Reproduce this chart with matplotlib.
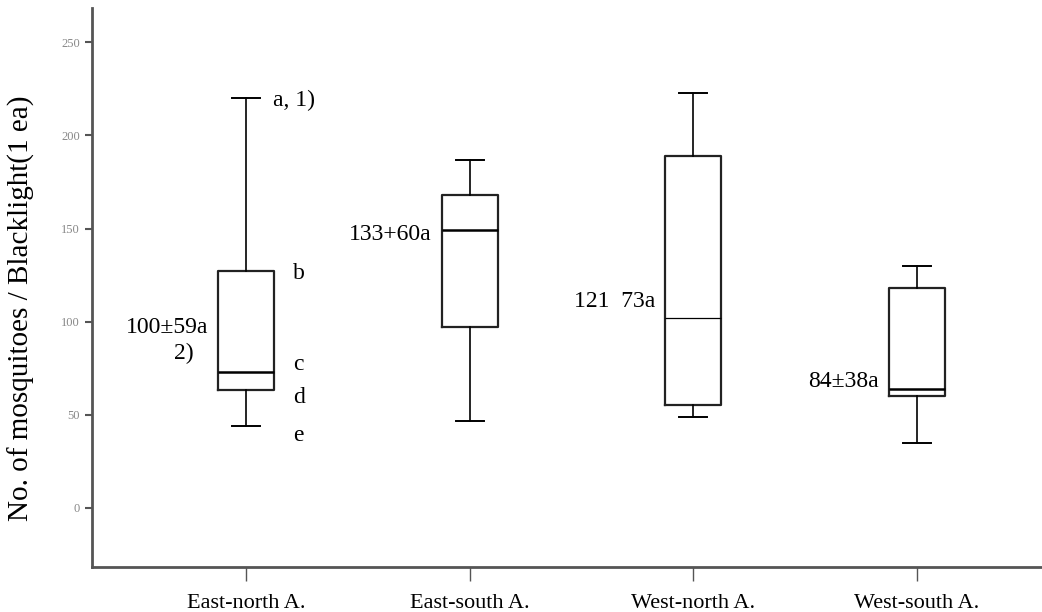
import matplotlib.pyplot as plt

plt.rcParams['font.family'] = ['Liberation Serif', 'DejaVu Serif']

areas = ['East-north A.', 'East-south A.', 'West-north A.', 'West-south A.']
whisker_low = [44, 46.5, 49, 35]
q1 = [63, 97, 55, 60]
medians = [73, 149, 102, 64]
q3 = [127, 168, 189, 118]
whisker_high = [220, 187, 223, 130]
mean_sd = ['100±59a', '133+60a', '121  73a', '84±38a']
yticks = [0, 50, 100, 150, 200, 250]

stats = []
for i, name in enumerate(areas):
    stats.append({'label': name, 'whislo': whisker_low[i], 'q1': q1[i],
                  'med': medians[i], 'q3': q3[i], 'whishi': whisker_high[i],
                  'fliers': []})

fig = plt.figure(figsize=(10.42, 6.12), dpi=100)
ax = fig.add_axes([0.088, 0.074, 0.912, 0.913])

parts = ax.bxp(stats, positions=[1, 2, 3, 4], widths=0.25, showfliers=False,
               boxprops=dict(color='#222222', linewidth=1.6),
               medianprops=dict(color='black', linewidth=1.8),
               whiskerprops=dict(color='black', linewidth=1.2),
               capprops=dict(color='black', linewidth=1.4))
parts['medians'][2].set_linewidth(0.9)

ax.set_xlim(0.31, 4.56)
ax.set_ylim(-31.7, 268.5)
ax.set_yticks(yticks)
ax.set_yticklabels([str(v) for v in yticks], color='#888888', fontsize=9)
ax.set_xticklabels(areas, fontsize=16)
ax.tick_params(axis='y', direction='out', length=5, width=1.5, color='#555555')
ax.tick_params(axis='x', direction='out', length=10, width=1, color='#555555', pad=10)
ax.set_ylabel('No. of mosquitoes / Blacklight(1 ea)', fontsize=21)
ax.yaxis.set_label_coords(-0.06, 0.463)

for side in ['top', 'right']:
    ax.spines[side].set_visible(False)
for side in ['left', 'bottom']:
    ax.spines[side].set_linewidth(2)
    ax.spines[side].set_color('#555555')

# mean ± SD labels left of each box
label_y = [97, 147, 111, 68]
for i, txt in enumerate(mean_sd):
    ax.text(i + 1 - 0.17, label_y[i], txt, ha='right', va='center', fontsize=17)
ax.text(0.72, 83, '2)', ha='center', va='center', fontsize=17)

# legend letters for the first box
ax.text(1.12, 219, 'a, 1)', ha='left', va='center', fontsize=17)
ax.text(1.21, 126, 'b', ha='left', va='center', fontsize=17)
ax.text(1.21, 77, 'c', ha='left', va='center', fontsize=17)
ax.text(1.21, 59, 'd', ha='left', va='center', fontsize=17)
ax.text(1.21, 39, 'e', ha='left', va='center', fontsize=17)

fig.savefig('out.png', dpi=100)
